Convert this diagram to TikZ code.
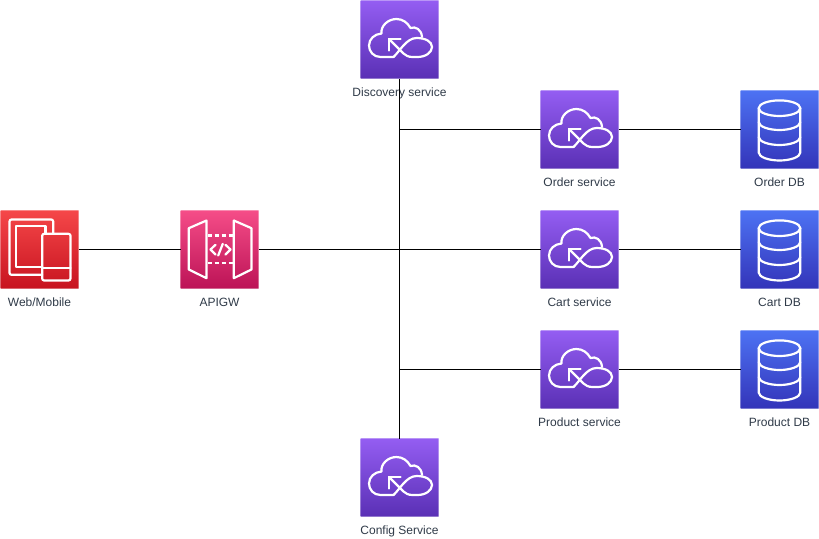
\documentclass[tikz,border=0pt]{standalone}
\usepackage{fontspec}
\setmainfont{Liberation Sans}
\definecolor{lblc}{HTML}{2F3A48}
\definecolor{pt}{HTML}{945DF2}\definecolor{pb}{HTML}{5A30B5}
\definecolor{rt}{HTML}{F54749}\definecolor{rb}{HTML}{C7131F}
\definecolor{kt}{HTML}{F54D88}\definecolor{kb}{HTML}{BC1356}
\definecolor{bt}{HTML}{4D72F3}\definecolor{bb}{HTML}{3334B9}
\tikzset{
  x=1pt,y=-1pt,
  tile/.style={minimum size=78pt,inner sep=0pt,outer sep=0pt,shading angle=0,draw=white,draw opacity=.35,line width=.7pt},
  lbl/.style={font=\fontsize{12}{14}\selectfont,text=lblc,inner sep=0pt,text height=9pt,text depth=2.5pt,anchor=north},
  conn/.style={draw=black,line width=1pt},
  icon/.style={draw=white,line width=2.2pt,line join=round,line cap=round,fill=none},
  svc/.style={tile,top color=pt,bottom color=pb},
  web/.style={tile,top color=rt,bottom color=rb},
  gw/.style={tile,top color=kt,bottom color=kb},
  dbt/.style={tile,top color=bt,bottom color=bb},
  cloudicon/.pic={
    \draw[icon] (33,56.5) -- (20,56.5) .. controls (13,56.5) and (8.5,51) .. (8.5,45)
      .. controls (8.5,38.5) and (14,33.5) .. (21,33)
      .. controls (20,25) and (28,18.5) .. (36,18.5)
      .. controls (42,18.5) and (47,22) .. (50,27.5)
      .. controls (55,25.5) and (61,29) .. (61.5,36.5);
    \draw[icon] (28.5,38.5) -- (43,53) .. controls (45,55) and (48,56.5) .. (52,56.5)
      -- (57,56.5) .. controls (65,56.5) and (71.5,52) .. (71.5,46.5)
      .. controls (71.5,41) and (65,37.5) .. (56,37.5)
      .. controls (46,37.5) and (39,51) .. (33,56.5);
    \draw[icon] (40,38.5) -- (28.5,38.5) -- (28.5,50);
  },
  devicesicon/.pic={
    \draw[icon,rounded corners=2pt] (41.7,64.3) -- (9,64.3) -- (9,9) -- (52.7,9) -- (52.7,23.3);
    \draw[icon] (41.7,56.7) -- (15.7,56.7) -- (15.7,15.7) -- (45,15.7) -- (45,23.3);
    \draw[icon,rounded corners=2pt] (41.7,23.3) rectangle (70,70);
    \draw[icon] (41.7,57.7) -- (70,57.7);
  },
  gatewayicon/.pic={
    \draw[icon] (8.3,17.7) -- (26,10) -- (26,67.7) -- (8.3,59) -- cycle;
    \draw[icon] (53.3,10) -- (71,17.7) -- (71,59) -- (53.3,67.7) -- cycle;
    \draw[icon,line cap=butt,dash pattern=on 4pt off 3pt] (27,25) -- (52,25);
    \draw[icon,line cap=butt,dash pattern=on 4pt off 3pt] (27,52.3) -- (52,52.3);
    \draw[icon] (35,34.3) -- (30,39) -- (35,44);
    \draw[icon] (45,34.3) -- (50,39) -- (45,44);
    \draw[icon] (42.3,33.3) -- (37.7,45);
  },
  dbicon/.pic={
    \draw[icon] (39,17.7) ellipse [x radius=20.8,y radius=7.8];
    \draw[icon] (18.2,17.7) -- (18.2,62) .. controls (18.2,66.5) and (28,70) .. (39,70)
      .. controls (50,70) and (59.8,66.5) .. (59.8,62) -- (59.8,17.7);
    \draw[icon] (18.2,31.5) .. controls (18.2,36) and (28,39.5) .. (39,39.5)
      .. controls (50,39.5) and (59.8,36) .. (59.8,31.5);
    \draw[icon] (18.2,46.5) .. controls (18.2,51) and (28,54.5) .. (39,54.5)
      .. controls (50,54.5) and (59.8,51) .. (59.8,46.5);
  },
}
\begin{document}
\begin{tikzpicture}
\useasboundingbox (0,0) rectangle (819,538);
% tiles
\node[web] (webm) at (39.5,249.5) {};
\node[gw] (apigw) at (219.5,249.5) {};
\node[svc] (disc) at (399.5,39.5) {};
\node[svc] (conf) at (399.5,477.5) {};
\node[svc] (order) at (579.5,129.5) {};
\node[svc] (cart) at (579.5,249.5) {};
\node[svc] (prod) at (579.5,369.5) {};
\node[dbt] (orderdb) at (779.5,129.5) {};
\node[dbt] (cartdb) at (779.5,249.5) {};
\node[dbt] (proddb) at (779.5,369.5) {};
% icons
\pic at (webm.north west) {devicesicon};
\pic at (apigw.north west) {gatewayicon};
\foreach \n in {disc,conf,order,cart,prod} {\pic at (\n.north west) {cloudicon};}
\foreach \n in {orderdb,cartdb,proddb} {\pic at (\n.north west) {dbicon};}
% labels
\node[lbl] (webml) at ([yshift=-8.5pt]webm.south) {Web/Mobile};
\node[lbl] (apigwl) at ([yshift=-8.5pt]apigw.south) {APIGW};
\node[lbl] (discl) at ([yshift=-8.5pt]disc.south) {Discovery service};
\node[lbl] (confl) at ([yshift=-8.5pt]conf.south) {Config Service};
\node[lbl] (orderl) at ([yshift=-8.5pt]order.south) {Order service};
\node[lbl] (cartl) at ([yshift=-8.5pt]cart.south) {Cart service};
\node[lbl] (prodl) at ([yshift=-8.5pt]prod.south) {Product service};
\node[lbl] (orderdbl) at ([yshift=-8.5pt]orderdb.south) {Order DB};
\node[lbl] (cartdbl) at ([yshift=-8.5pt]cartdb.south) {Cart DB};
\node[lbl] (proddbl) at ([yshift=-8.5pt]proddb.south) {Product DB};
% connectors
\draw[conn] (webm) -- (apigw);
\draw[conn] (apigw) -- (cart);
\draw[conn] (disc) -- (conf);
\draw[conn] (order) -- (order -| disc);
\draw[conn] (prod) -- (prod -| disc);
\draw[conn] (order) -- (orderdb);
\draw[conn] (cart) -- (cartdb);
\draw[conn] (prod) -- (proddb);
\end{tikzpicture}
\end{document}
